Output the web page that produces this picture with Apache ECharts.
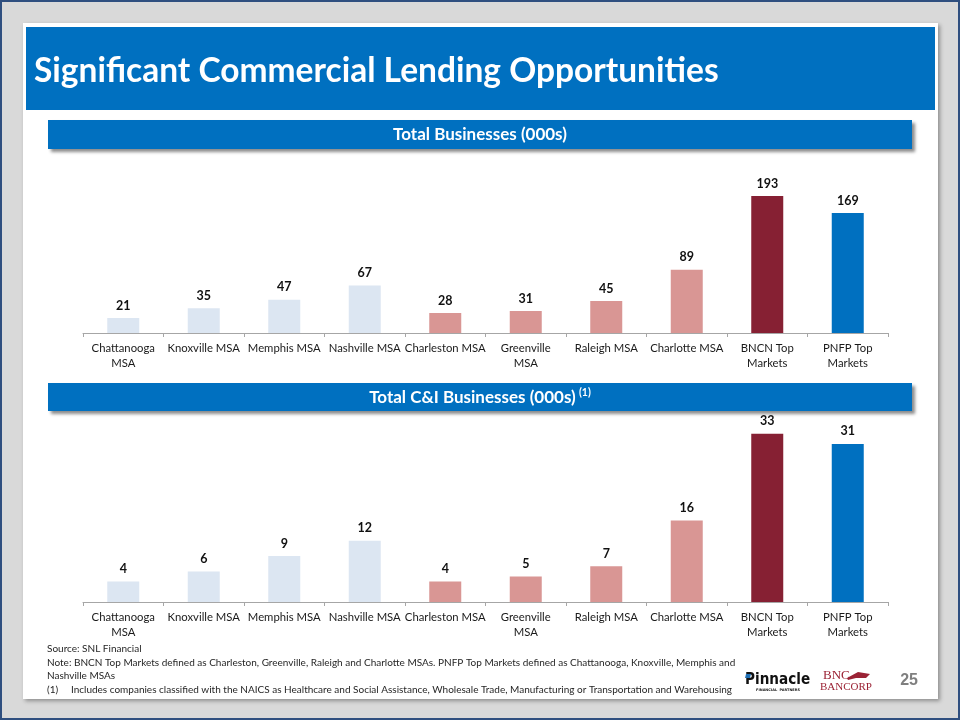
<!DOCTYPE html>
<html><head><meta charset="utf-8">
<script src="https://cdn.jsdelivr.net/npm/echarts@6/dist/echarts.min.js"></script>
<style>html,body{margin:0;padding:0;background:#d9d9d9}#c{width:960px;height:720px}</style>
</head><body><div id="c"></div>
<script>
const categories = ['Chattanooga\nMSA','Knoxville MSA','Memphis MSA','Nashville MSA','Charleston MSA','Greenville\nMSA','Raleigh MSA','Charlotte MSA','BNCN Top\nMarkets','PNFP Top\nMarkets'];
const totalBusinesses = [21,35,47,67,28,31,45,89,193,169];
const totalCIBusinesses = [4,6,9,12,4,5,7,16,33,31];
const barColors = ['#dce6f2','#dce6f2','#dce6f2','#dce6f2','#d99694','#d99694','#d99694','#d99694','#862033','#0070c0'];
const titleText = 'Significant Commercial Lending Opportunities';
const header1 = 'Total Businesses (000s)';
const header2 = 'Total C&I Businesses (000s)';
const footnotes = [
  'Source: SNL Financial',
  'Note: BNCN Top Markets defined as Charleston, Greenville, Raleigh and Charlotte MSAs. PNFP Top Markets defined as Chattanooga, Knoxville, Memphis and',
  'Nashville MSAs',
  '(1)     Includes companies classified with the NAICS as Healthcare and Social Assistance, Wholesale Trade, Manufacturing or Transportation and Warehousing'
];
const pageNumber = '25';

const FONT = 'Lato';
const chart = echarts.init(document.getElementById('c'), null, {renderer: 'canvas'});

function makeData(vals) {
  return vals.map((v, i) => ({value: v, itemStyle: {color: barColors[i]}}));
}

const axisX = (gi) => ({
  type: 'category', gridIndex: gi, data: categories,
  axisLine: {lineStyle: {color: '#a6a6a6', width: 1}},
  axisTick: {show: true, length: 4, lineStyle: {color: '#a6a6a6'}},
  axisLabel: {interval: 0, color: '#1a1a1a', fontSize: 11.3, fontFamily: FONT, lineHeight: 15, margin: 8}
});
const axisY = (gi, max) => ({
  type: 'value', gridIndex: gi, min: 0, max: max, show: false, splitLine: {show: false}
});

const label = {show: true, position: 'top', distance: 6, color: '#111', fontSize: 12.5, fontFamily: FONT, fontWeight: 'bold'};

const option = {
  backgroundColor: '#d9d9d9',
  animation: false,
  textStyle: {fontFamily: FONT},
  grid: [
    {left: 83, right: 72, top: 191, bottom: 387},
    {left: 83, right: 72, top: 423.5, bottom: 118}
  ],
  xAxis: [axisX(0), axisX(1)],
  yAxis: [axisY(0, 200), axisY(1, 35)],
  series: [
    {type: 'bar', xAxisIndex: 0, yAxisIndex: 0, barWidth: 32, data: makeData(totalBusinesses), label: label, z: 5},
    {type: 'bar', xAxisIndex: 1, yAxisIndex: 1, barWidth: 32, data: makeData(totalCIBusinesses), label: label, z: 5}
  ],
  graphic: [
    {type: 'rect', z: -10, shape: {x: 1, y: 1, width: 958, height: 718}, style: {fill: '#d9d9d9', stroke: '#2f4f7f', lineWidth: 2}},
    {type: 'rect', z: -9, shape: {x: 23, y: 23, width: 915, height: 676}, style: {fill: '#ffffff', shadowBlur: 4, shadowOffsetX: 2, shadowOffsetY: 2, shadowColor: 'rgba(0,0,0,0.35)'}},
    {type: 'rect', z: -8, shape: {x: 26, y: 27, width: 909, height: 83}, style: {fill: '#0070c0'}},
    {type: 'text', z: 10, x: 34, y: 71, style: {text: titleText, fill: '#ffffff', font: 'bold 33.5px Lato', verticalAlign: 'middle', align: 'left'}},
    {type: 'rect', z: -8, shape: {x: 48, y: 120, width: 864, height: 29}, style: {fill: '#0070c0', shadowBlur: 3, shadowOffsetX: 3, shadowOffsetY: 3, shadowColor: 'rgba(0,0,0,0.45)'}},
    {type: 'text', z: 10, x: 480, y: 135, style: {text: header1, fill: '#ffffff', font: 'bold 17px Lato', verticalAlign: 'middle', align: 'center'}},
    {type: 'rect', z: -8, shape: {x: 48, y: 383, width: 864, height: 28}, style: {fill: '#0070c0', shadowBlur: 3, shadowOffsetX: 3, shadowOffsetY: 3, shadowColor: 'rgba(0,0,0,0.45)'}},
    {type: 'text', z: 10, x: 480, y: 397, style: {
      text: '{m|' + header2 + '} {s|(1)}', fill: '#ffffff', align: 'center', verticalAlign: 'middle',
      rich: {m: {font: 'bold 17px Lato', fill: '#ffffff', verticalAlign: 'bottom'}, s: {font: 'bold 10.5px Lato', fill: '#ffffff', verticalAlign: 'top', padding: [0, 0, 8, 0]}}
    }},
    {type: 'text', z: 10, x: 47, y: 649, style: {text: footnotes[0], fill: '#262626', font: '10px Lato', verticalAlign: 'middle'}},
    {type: 'text', z: 10, x: 47, y: 663, style: {text: footnotes[1], fill: '#262626', font: '10px Lato', verticalAlign: 'middle'}},
    {type: 'text', z: 10, x: 47, y: 676, style: {text: footnotes[2], fill: '#262626', font: '10px Lato', verticalAlign: 'middle'}},
    {type: 'text', z: 10, x: 47, y: 690, style: {text: footnotes[3], fill: '#262626', font: '10px Lato', verticalAlign: 'middle'}},
    {type: 'text', z: 10, x: 918, y: 681, style: {text: pageNumber, fill: '#7f7f7f', font: 'bold 16px "Liberation Sans"', align: 'right', verticalAlign: 'middle'}},
    // Pinnacle logo
    {type: 'text', z: 10, x: 745, y: 680, scaleX: 0.85, style: {text: 'Pinnacle', fill: '#111', font: 'bold 16px "DejaVu Sans"', verticalAlign: 'middle'}},
    {type: 'polygon', z: 11, shape: {points: [[746, 674], [751, 674], [750, 678], [745, 678]]}, style: {fill: '#1f6fb5'}},
    {type: 'text', z: 10, x: 778, y: 690, style: {text: 'FINANCIAL  PARTNERS', fill: '#111', font: 'bold 3.5px "DejaVu Sans"', align: 'center', verticalAlign: 'middle'}},
    // BNC Bancorp logo
    {type: 'text', z: 10, x: 823, y: 676, style: {text: 'BNC', fill: '#9b2335', font: '13px "Liberation Serif"', verticalAlign: 'middle'}},
    {type: 'text', z: 10, x: 820, y: 687, style: {text: 'BANCORP', fill: '#9b2335', font: '11px "Liberation Serif"', verticalAlign: 'middle'}},
    {type: 'polygon', z: 10, shape: {points: [[847, 678], [858, 672], [870, 674], [866, 678], [856, 678], [848, 680]]}, style: {fill: '#9b2335'}}
  ]
};
chart.setOption(option);
</script>
</body></html>
